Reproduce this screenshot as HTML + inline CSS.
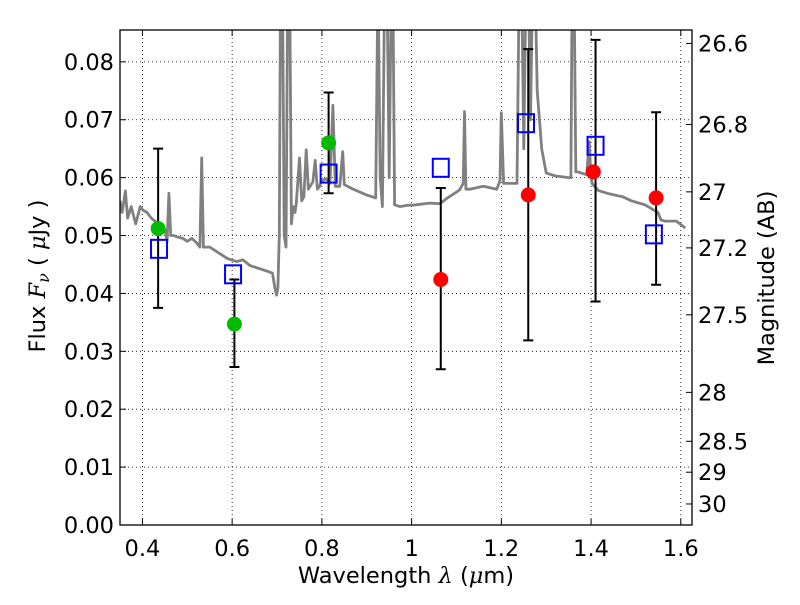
<!DOCTYPE html>
<html><head><meta charset="utf-8"><style>
body{margin:0;background:#fff}
svg text{font-family:"DejaVu Sans","Liberation Sans",sans-serif;font-size:22.5px;fill:#000}
</style></head><body>
<svg id="chart" width="800" height="600" viewBox="0 0 800 600" xmlns="http://www.w3.org/2000/svg">
<defs><clipPath id="clip"><rect x="120" y="30" width="572" height="495"/></clipPath></defs>
<rect x="0" y="0" width="800" height="600" fill="#fff"/>
<g id="grid"></g>
<g id="spec" clip-path="url(#clip)"></g>
<g id="marks"></g>
<rect x="120" y="30" width="572" height="495" fill="none" stroke="#000" stroke-width="1.3"/>
<g id="axes"></g>
<text x="406" y="583" text-anchor="middle">Wavelength  <tspan font-style="italic" font-family="DejaVu Serif, serif">λ</tspan> (<tspan font-style="italic" font-family="DejaVu Serif, serif">μ</tspan>m)</text>
<text transform="translate(45,276) rotate(-90)" text-anchor="middle">Flux  <tspan font-style="italic" font-family="DejaVu Serif, serif">F<tspan font-size="16" dy="4">ν</tspan></tspan><tspan dy="-4">  (  </tspan><tspan font-style="italic" font-family="DejaVu Serif, serif">μ</tspan>Jy )</text>
<text transform="translate(774,278) rotate(-90)" text-anchor="middle">Magnitude (AB)</text>
</svg>
<script>
const xTicks=[0.4,0.6,0.8,1.0,1.2,1.4,1.6];
const xTickLabels=["0.4","0.6","0.8","1","1.2","1.4","1.6"];
const yTicks=[0,0.01,0.02,0.03,0.04,0.05,0.06,0.07,0.08];
const yTickLabels=["0.00","0.01","0.02","0.03","0.04","0.05","0.06","0.07","0.08"];
const magTicks=[26.6,26.8,27,27.2,27.5,28,28.5,29,30];
const magTickLabels=["26.6","26.8","27","27.2","27.5","28","28.5","29","30"];
const specWl=[0.35,0.355,0.362,0.367,0.375,0.385,0.395,0.401,0.41,0.42,0.435,0.45,0.455,0.459,0.463,0.47,0.476,0.49,0.5,0.51,0.52,0.528,0.532,0.536,0.55,0.57,0.59,0.61,0.624,0.64,0.66,0.68,0.69,0.695,0.699,0.702,0.705,0.708,0.712,0.716,0.72,0.724,0.728,0.732,0.736,0.74,0.743,0.75,0.755,0.76,0.765,0.77,0.78,0.785,0.79,0.795,0.8,0.81,0.818,0.8245,0.83,0.84,0.8465,0.85,0.87,0.9,0.92,0.925,0.93,0.935,0.94,0.945,0.95,0.955,0.958,0.962,0.974,0.99,1.01,1.04,1.063,1.08,1.1,1.107,1.115,1.118,1.121,1.13,1.16,1.19,1.197,1.2,1.205,1.22,1.235,1.24,1.245,1.25,1.255,1.26,1.265,1.27,1.275,1.28,1.29,1.3,1.32,1.35,1.355,1.358,1.362,1.366,1.37,1.39,1.396,1.399,1.402,1.416,1.44,1.47,1.49,1.52,1.549,1.556,1.564,1.59,1.61,1.625];
const specFlux=[0.056,0.054,0.0577,0.053,0.055,0.052,0.055,0.0544,0.054,0.053,0.052,0.051,0.049,0.0573,0.05,0.05,0.0498,0.0495,0.049,0.0495,0.0488,0.048,0.0634,0.048,0.048,0.047,0.046,0.0455,0.0458,0.0448,0.0443,0.0438,0.0435,0.041,0.0397,0.041,0.05,0.095,0.095,0.05,0.048,0.095,0.095,0.052,0.055,0.054,0.0556,0.0634,0.056,0.0567,0.0648,0.058,0.0593,0.063,0.058,0.0585,0.0595,0.0598,0.059,0.0725,0.0585,0.0585,0.0645,0.0588,0.058,0.057,0.0565,0.095,0.06,0.055,0.095,0.095,0.06,0.095,0.095,0.0553,0.055,0.0552,0.0553,0.0556,0.0555,0.0565,0.0575,0.0579,0.059,0.0714,0.058,0.058,0.0585,0.058,0.0595,0.0712,0.059,0.059,0.059,0.095,0.095,0.065,0.095,0.095,0.07,0.095,0.095,0.075,0.065,0.0608,0.0603,0.06,0.06,0.095,0.095,0.061,0.061,0.0605,0.0662,0.061,0.059,0.0578,0.0572,0.0567,0.056,0.0553,0.054,0.0527,0.0525,0.0525,0.0513];
const greenWl=[0.435,0.605,0.815];
const greenFlux=[0.0512,0.0347,0.066];
const redWl=[1.065,1.26,1.405,1.545];
const redFlux=[0.0424,0.057,0.061,0.0565];
const boxWl=[0.437,0.602,0.815,1.065,1.255,1.41,1.54];
const boxFlux=[0.0477,0.0433,0.0607,0.0617,0.0694,0.0655,0.0502];
const errWl=[0.435,0.605,0.815,1.065,1.26,1.41,1.545];
const errLo=[0.0375,0.0273,0.0573,0.0269,0.0319,0.0386,0.0415];
const errHi=[0.065,0.0424,0.0747,0.0582,0.0822,0.0838,0.0713];

const X0=120,X1=692,Y0=525,Y1=30,XMIN=0.35,XMAX=1.625,YMIN=0,YMAX=0.0855;
const sx=v=>X0+(v-XMIN)/(XMAX-XMIN)*(X1-X0);
const sy=v=>Y0-(v-YMIN)/(YMAX-YMIN)*(Y0-Y1);
const magToFlux=m=>Math.pow(10,(23.9-m)/2.5);
const NS="http://www.w3.org/2000/svg";
function mk(tag,attrs,parent){const e=document.createElementNS(NS,tag);for(const k in attrs)e.setAttribute(k,attrs[k]);parent.appendChild(e);return e;}
const grid=document.getElementById('grid'),axes=document.getElementById('axes'),spec=document.getElementById('spec'),marks=document.getElementById('marks');

xTicks.forEach((t,i)=>{const x=sx(t);
 const g=mk('line',{x1:x,x2:x,y1:Y1,y2:Y0,stroke:'#000','stroke-width':0.8,'stroke-dasharray':'1,3'},grid);
 
 
 const tk=mk('line',{x1:x,x2:x,y1:Y0,y2:Y0-6,stroke:'#000'},axes);
 
 
 const tk2=mk('line',{x1:x,x2:x,y1:Y1,y2:Y1+6,stroke:'#000'},axes);
 
 
 const l=mk('text',{x:x,y:556,'text-anchor':'middle'},axes);l.textContent=xTickLabels[i];
 
 
});
yTicks.forEach((t,i)=>{const y=sy(t);
 const g=mk('line',{x1:X0,x2:X1,y1:y,y2:y,stroke:'#000','stroke-width':0.8,'stroke-dasharray':'1,3'},grid);
 
 
 const tk=mk('line',{x1:X0,x2:X0+6,y1:y,y2:y,stroke:'#000'},axes);
 
 
 const l=mk('text',{x:114,y:y+8,'text-anchor':'end'},axes);l.textContent=yTickLabels[i];
 
 
});
magTicks.forEach((m,i)=>{const y=sy(magToFlux(m));
 const tk=mk('line',{x1:X1-6,x2:X1,y1:y,y2:y,stroke:'#000'},axes);
 
 
 const l=mk('text',{x:698,y:y+8,'text-anchor':'start'},axes);l.textContent=magTickLabels[i];
 
 
});
const pts=specWl.map((w,i)=>sx(w).toFixed(1)+','+sy(specFlux[i]).toFixed(1)).join(' ');
const pl=mk('polyline',{points:pts,fill:'none',stroke:'#808080','stroke-width':2.8,'stroke-linejoin':'round'},spec);


errWl.forEach((w,i)=>{const x=sx(w),a=sy(errLo[i]),b=sy(errHi[i]);
 const e=mk('path',{d:`M${x},${a}V${b}M${x-5},${a}H${x+5}M${x-5},${b}H${x+5}`,stroke:'#000','stroke-width':2,fill:'none'},marks);
 
 
});
boxWl.forEach((w,i)=>{const x=sx(w),y=sy(boxFlux[i]);
 const r=mk('rect',{x:x-8,y:y-9,width:16,height:18,fill:'none',stroke:'#0000ff','stroke-width':2},marks);
 
 
});
greenWl.forEach((w,i)=>{const c=mk('circle',{cx:sx(w),cy:sy(greenFlux[i]),r:7.5,fill:'#00bb00'},marks);
 
 
});
redWl.forEach((w,i)=>{const c=mk('circle',{cx:sx(w),cy:sy(redFlux[i]),r:7.5,fill:'#ff0000'},marks);
 
 
});
</script>
</body></html>
